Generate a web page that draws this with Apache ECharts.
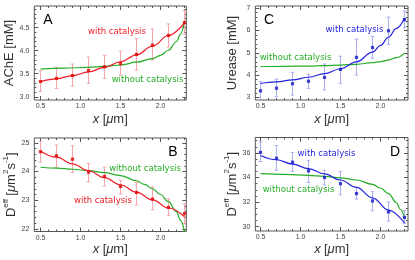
<!DOCTYPE html>
<html><head><meta charset="utf-8">
<script src="https://cdn.jsdelivr.net/npm/echarts@6/dist/echarts.min.js"></script>
<style>html,body{margin:0;padding:0;background:#fff}#c{width:415px;height:260px}</style>
</head><body><div id="c"></div>
<script>
// ---------- data ----------
const xPos = [0.5,0.7,0.9,1.1,1.3,1.5,1.7,1.9,2.1,2.3];
const xMajor = [0.5,1.0,1.5,2.0];
const xMinor = [0.6,0.7,0.8,0.9,1.1,1.2,1.3,1.4,1.6,1.7,1.8,1.9,2.1,2.2,2.3];

// Panel A: AChE
const aMean = [3.33,3.40,3.46,3.57,3.65,3.72,3.92,4.12,4.33,4.61];
const aLow  = [3.12,3.18,3.23,3.29,3.40,3.47,3.58,3.80,4.08,4.36];
const aHigh = [3.56,3.64,3.71,3.86,3.90,3.99,4.26,4.47,4.58,4.87];
const aFitX = [0.5,0.7,0.9,1.1,1.3,1.5,1.7,1.9,2.1,2.3];
const aFitY = [3.33,3.39,3.46,3.54,3.64,3.76,3.91,4.10,4.33,4.61];
const aNoX  = [0.5,0.8,1.1,1.3,1.5,1.7,1.9,2.0,2.1,2.2,2.25,2.3];
const aNoY  = [3.60,3.62,3.64,3.66,3.69,3.75,3.83,3.90,4.01,4.20,4.36,4.64];
const aTicks = [3.0,3.5,4.0,4.5];
const aMinor = [3.1,3.2,3.3,3.4,3.6,3.7,3.8,3.9,4.1,4.2,4.3,4.4,4.6,4.7,4.8,4.9];

// Panel B: Deff (AChE)
const bMean = [24.69,24.55,24.43,23.98,23.83,23.48,23.27,23.04,22.75,22.53];
const bLow  = [24.33,24.15,23.97,23.65,23.50,23.22,22.84,22.67,22.46,22.18];
const bHigh = [25.05,24.93,24.90,24.29,24.15,23.69,23.62,23.46,23.05,22.87];
const bFitX = [0.5,0.7,0.9,1.1,1.3,1.5,1.7,1.9,2.1,2.3];
const bFitY = [24.72,24.50,24.27,24.03,23.79,23.54,23.28,23.01,22.73,22.42];
const bNoX  = [0.5,0.7,0.9,1.1,1.3,1.5,1.7,1.8,1.9,2.0,2.1,2.2,2.25,2.3];
const bNoY  = [24.15,24.12,24.08,24.03,23.96,23.86,23.68,23.55,23.40,23.20,22.95,22.60,22.30,21.90];
const bTicks = [22,23,24,25];
const bMinor = [22.2,22.4,22.6,22.8,23.2,23.4,23.6,23.8,24.2,24.4,24.6,24.8,25.2];

// Panel C: Urease
const cMean = [3.30,3.42,3.62,3.73,3.90,4.26,4.80,5.24,5.99,6.49];
const cLow  = [2.90,3.04,3.11,3.41,3.34,3.64,4.01,4.76,5.38,6.12];
const cHigh = [3.72,3.82,4.13,4.04,4.50,4.85,5.61,5.74,6.60,6.88];
const cFitX = [0.5,0.7,0.9,1.1,1.3,1.5,1.7,1.9,2.0,2.1,2.2,2.3];
const cFitY = [3.63,3.70,3.79,3.91,4.07,4.29,4.60,5.03,5.33,5.70,6.10,6.55];
const cNoX  = [0.5,0.8,1.1,1.3,1.5,1.7,1.9,2.0,2.1,2.2,2.3];
const cNoY  = [4.39,4.40,4.41,4.43,4.45,4.49,4.56,4.61,4.68,4.79,4.98];
const cTicks = [3,4,5,6,7];
const cMinor = [3.2,3.4,3.6,3.8,4.2,4.4,4.6,4.8,5.2,5.4,5.6,5.8,6.2,6.4,6.6,6.8];

// Panel D: Deff (Urease)
const dMean = [36.05,35.57,35.25,34.55,34.00,33.50,32.70,32.10,31.20,30.75];
const dLow  = [35.30,34.60,34.50,33.60,33.40,32.60,32.25,31.30,30.45,30.25];
const dHigh = [36.90,36.60,36.05,35.40,34.60,34.50,33.20,32.85,32.00,31.30];
const dFitX = [0.5,0.7,0.9,1.1,1.3,1.5,1.7,1.9,2.1,2.3];
const dFitY = [35.80,35.45,35.10,34.72,34.30,33.80,33.20,32.35,31.35,30.30];
const dNoX  = [0.5,0.8,1.1,1.3,1.5,1.7,1.9,2.0,2.1,2.2,2.25,2.3];
const dNoY  = [34.32,34.26,34.18,34.10,33.98,33.80,33.45,33.15,32.70,31.95,31.40,30.75];
const dTicks = [30,32,34,36];
const dMinor = [30.5,31,31.5,32.5,33,33.5,34.5,35,35.5,36.5,37];

// ---------- styling ----------
const RED='#ee1c24', REDPT='#e00000', REDERR='#f6a5ad';
const BLUE='#2424dc', BLUEPT='#1414c8', BLUEERR='#a9aef2';
const GREEN='#27ad27';
const TC='#555';
const SANS='Liberation Sans, Arial, sans-serif';
const LSANS='DejaVu Sans, sans-serif';

const nameRich = {
  n:{fontSize:13,fontFamily:SANS,color:'#333',lineHeight:18},
  i:{fontSize:13,fontFamily:SANS,fontStyle:'italic',color:'#333',lineHeight:18},
  s:{fontSize:8,fontFamily:SANS,color:'#333',verticalAlign:'top',lineHeight:18}
};
const xName = '{i|x} {n|[}{i|μ}{n|m]}';
const deffName = '{n|D}{s|eff} {n|[}{i|μ}{n|m}{s|2}{n|s}{s|-1}{n|]}';

const panels = [
  {grid:{left:34.3,top:6,width:152,height:94}, xMin:0.4225, xMax:2.3225, yMin:2.93, yMax:4.97,
   yMajor:aTicks, yMinorT:aMinor, fmt:v=>v.toFixed(1), mean:aMean, low:aLow, high:aHigh,
   fitX:aFitX, fitY:aFitY, noX:aNoX, noY:aNoY, c:RED, cp:REDPT, ce:REDERR,
   yName:'{n|AChE [mM]}', yGap:14, xGap:10},
  {grid:{left:255.3,top:6,width:152.7,height:94}, xMin:0.435, xMax:2.344, yMin:2.89, yMax:7.1,
   yMajor:cTicks, yMinorT:cMinor, fmt:v=>String(v), mean:cMean, low:cLow, high:cHigh,
   fitX:cFitX, fitY:cFitY, noX:cNoX, noY:cNoY, c:BLUE, cp:BLUEPT, ce:BLUEERR,
   yName:'{n|Urease [mM]}', yGap:14, xGap:10},
  {grid:{left:34.3,top:138,width:152,height:93.5}, xMin:0.4225, xMax:2.3225, yMin:21.91, yMax:25.17,
   yMajor:bTicks, yMinorT:bMinor, fmt:v=>String(v), mean:bMean, low:bLow, high:bHigh,
   fitX:bFitX, fitY:bFitY, noX:bNoX, noY:bNoY, c:RED, cp:REDPT, ce:REDERR,
   yName:deffName, yGap:12, xGap:9},
  {grid:{left:255.3,top:137.5,width:152.7,height:93.5}, xMin:0.435, xMax:2.344, yMin:29.65, yMax:37.26,
   yMajor:dTicks, yMinorT:dMinor, fmt:v=>String(v), mean:dMean, low:dLow, high:dHigh,
   fitX:dFitX, fitY:dFitY, noX:dNoX, noY:dNoY, c:BLUE, cp:BLUEPT, ce:BLUEERR,
   yName:deffName, yGap:11, xGap:9}
];

const grids=[], xAxes=[], yAxes=[], series=[];
const labelStyle = {fontSize:7, color:'#444', fontFamily:SANS};

panels.forEach((p,gi)=>{
  grids.push({...p.grid, show:true, borderColor:'#555', borderWidth:1, backgroundColor:'transparent'});
  const xb = {gridIndex:gi, type:'value', min:p.xMin, max:p.xMax, axisLine:{show:false,onZero:false}, splitLine:{show:false}};
  const yb = {gridIndex:gi, type:'value', min:p.yMin, max:p.yMax, axisLine:{show:false,onZero:false}, splitLine:{show:false}};
  const xi = xAxes.length, yi = yAxes.length;
  xAxes.push({...xb, position:'bottom',
    axisTick:{inside:true,length:4,lineStyle:{color:TC},customValues:xMajor},
    axisLabel:{...labelStyle, margin:3, customValues:xMajor, formatter:v=>Number(v).toFixed(1)},
    name:xName, nameLocation:'middle', nameGap:p.xGap, nameTextStyle:{rich:nameRich}});
  xAxes.push({...xb, position:'bottom', axisTick:{inside:true,length:2,lineStyle:{color:TC},customValues:xMinor}, axisLabel:{show:false}});
  xAxes.push({...xb, position:'top', axisTick:{inside:true,length:4,lineStyle:{color:TC},customValues:xMajor}, axisLabel:{show:false}});
  xAxes.push({...xb, position:'top', axisTick:{inside:true,length:2,lineStyle:{color:TC},customValues:xMinor}, axisLabel:{show:false}});
  yAxes.push({...yb, position:'left',
    axisTick:{inside:true,length:4,lineStyle:{color:TC},customValues:p.yMajor},
    axisLabel:{...labelStyle, margin:5, customValues:p.yMajor, formatter:v=>p.fmt(Number(v))},
    name:p.yName, nameLocation:'middle', nameGap:p.yGap, nameRotate:90, nameTextStyle:{rich:nameRich}});
  yAxes.push({...yb, position:'left', axisTick:{inside:true,length:2,lineStyle:{color:TC},customValues:p.yMinorT}, axisLabel:{show:false}});
  yAxes.push({...yb, position:'right', axisTick:{inside:true,length:4,lineStyle:{color:TC},customValues:p.yMajor}, axisLabel:{show:false}});
  yAxes.push({...yb, position:'right', axisTick:{inside:true,length:2,lineStyle:{color:TC},customValues:p.yMinorT}, axisLabel:{show:false}});

  const errData = xPos.map((x,i)=>[x,p.low[i],p.high[i]]);
  series.push({type:'custom', xAxisIndex:xi, yAxisIndex:yi, data:errData, z:1, clip:true,
    encode:{x:0,y:[1,2]},
    renderItem:(params,api)=>{
      const x=api.value(0);
      const lo=api.coord([x,api.value(1)]), hi=api.coord([x,api.value(2)]);
      const w=1.8, st={stroke:p.ce,lineWidth:1};
      return {type:'group',children:[
        {type:'line',shape:{x1:lo[0],y1:lo[1],x2:hi[0],y2:hi[1]},style:st},
        {type:'line',shape:{x1:lo[0]-w,y1:lo[1],x2:lo[0]+w,y2:lo[1]},style:st},
        {type:'line',shape:{x1:hi[0]-w,y1:hi[1],x2:hi[0]+w,y2:hi[1]},style:st}
      ]};
    }});
  series.push({type:'line', xAxisIndex:xi, yAxisIndex:yi, data:p.noX.map((x,i)=>[x,p.noY[i]]),
    showSymbol:false, smooth:0.4, smoothMonotone:'x', lineStyle:{color:GREEN,width:1.2}, z:2, silent:true});
  series.push({type:'line', xAxisIndex:xi, yAxisIndex:yi, data:p.fitX.map((x,i)=>[x,p.fitY[i]]),
    showSymbol:false, smooth:0.4, smoothMonotone:'x', lineStyle:{color:p.c,width:1.2}, z:3, silent:true});
  series.push({type:'scatter', xAxisIndex:xi, yAxisIndex:yi, data:xPos.map((x,i)=>[x,p.mean[i]]),
    symbol:'rect', symbolSize:3.2, itemStyle:{color:p.cp}, z:4, silent:true});
});

const txt = (t,x,y,color,size,fam)=>({type:'text', x:x, y:y, silent:true,
  style:{text:t, fill:color, font:size+'px '+fam, align:'center', verticalAlign:'middle'}});

const graphic = [
  txt('A',48,20,'#000',14,SANS), txt('C',269,20,'#000',14,SANS),
  txt('B',173,152,'#000',14,SANS), txt('D',395,152,'#000',14,SANS),
  txt('with catalysis',117,32,RED,8.5,LSANS),
  txt('without catalysis',147.5,80,GREEN,8.5,LSANS),
  txt('with catalysis',354.5,30,BLUE,8.5,LSANS),
  txt('without catalysis',295.5,58,GREEN,8.5,LSANS),
  txt('without catalysis',145,168.5,GREEN,8.5,LSANS),
  txt('with catalysis',103,201,RED,8.5,LSANS),
  txt('with catalysis',326.5,153.5,BLUE,8.5,LSANS),
  txt('without catalysis',298.5,190,GREEN,8.5,LSANS)
];

const chart = echarts.init(document.getElementById('c'), null, {renderer:'canvas'});
chart.setOption({animation:false, backgroundColor:'#fff', grid:grids, xAxis:xAxes, yAxis:yAxes, series:series, graphic:graphic});
</script>
</body></html>
